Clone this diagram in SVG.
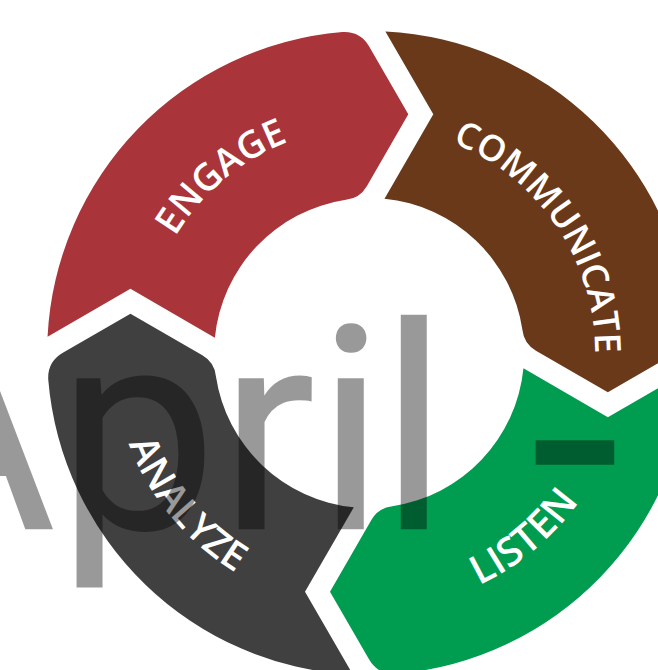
<svg xmlns="http://www.w3.org/2000/svg" width="658" height="670" viewBox="0 0 658 670">
<style>
.lbl { font-family: "Open Sans", "Noto Sans", sans-serif; font-weight: 600; fill: #ffffff; }
.wm { font-family: Roboto, "Noto Sans", sans-serif; font-size: 286px; fill: #000000; fill-opacity: 0.4; }
</style>
<defs>
<path id="seg" d="M -321.6 -16.25 L -238.7 -64.15 L -154.3 -15.35 A 155 155 0 0 1 -23.25 -153.25 Q -9.35 -154.7 -2.35 -166.8 L 39.15 -238.7 L 0.15 -306.3 Q -8.85 -321.9 -26.78 -320.89 A 322 322 0 0 0 -321.6 -16.25 Z"/>
<path id="p-engage" d="M 184.02 482.63 A 226 226 0 0 1 528.96 193.19"/>
<path id="p-communicate" d="M 256.15 157.28 A 226 226 0 0 1 514.42 526.13"/>
<path id="p-listen" d="M 187.42 534.73 A 257 257 0 0 0 579.67 205.59"/>
<path id="p-analyze" d="M 188.37 170.33 A 257 257 0 0 0 515.45 564.29"/>
</defs>
<rect width="658" height="670" fill="#ffffff"/>
<g id="engage">
<use href="#seg" transform="translate(369.15 353)" fill="#A9343A"/>
<text class="lbl" font-size="37.5"><textPath href="#p-engage" startOffset="50%" text-anchor="middle">ENGAGE</textPath></text>
</g>
<g id="communicate">
<use href="#seg" transform="translate(369.15 353) rotate(90)" fill="#6A391A"/>
<text class="lbl" font-size="36"><textPath href="#p-communicate" startOffset="50.5%" text-anchor="middle">COMMUNICATE</textPath></text>
</g>
<g id="listen">
<use href="#seg" transform="translate(369.15 353) rotate(180)" fill="#009C4F"/>
<text class="lbl" font-size="40"><textPath href="#p-listen" startOffset="50%" text-anchor="middle">LISTEN</textPath></text>
</g>
<g id="analyze">
<use href="#seg" transform="translate(369.15 353) rotate(270)" fill="#404040"/>
<text class="lbl" font-size="39"><textPath href="#p-analyze" startOffset="50%" text-anchor="middle">ANALYZE</textPath></text>
</g>
<g id="connectors"></g>
<text class="wm" y="529.3"><tspan x="-130 57 219 316 379 452">April </tspan><tspan x="529.5" y="552.3" font-size="330">-</tspan></text>
</svg>
